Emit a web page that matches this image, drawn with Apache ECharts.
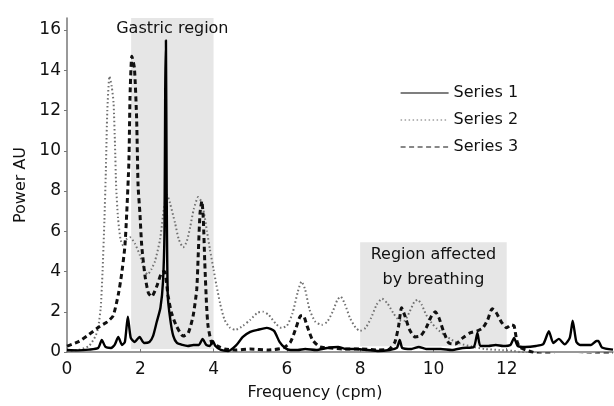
<!DOCTYPE html>
<html lang="en">
<head>
<meta charset="UTF-8">
<title>Power spectrum</title>
<script src="https://cdn.jsdelivr.net/npm/echarts@6/dist/echarts.min.js"></script>
<style>
  html, body { margin: 0; padding: 0; background: #fff; }
  #main { width: 614px; height: 406px; }
</style>
</head>
<body>
<div id="main"></div>
<script>
// frequency (cpm) / power (AU)
const series1 = [
  [0, 0.1], [0.3, 0.08], [0.6, 0.12], [0.85, 0.2], [0.95, 0.6], [1.05, 0.25], [1.2, 0.2],
  [1.3, 0.35], [1.4, 0.75], [1.5, 0.35], [1.58, 0.5], [1.66, 1.75], [1.74, 0.7], [1.85, 0.5],
  [1.98, 0.75], [2.1, 0.45], [2.25, 0.5], [2.35, 0.8], [2.45, 1.5], [2.55, 2.2], [2.62, 3.5],
  [2.66, 6], [2.68, 13], [2.7, 15.5], [2.72, 8], [2.75, 2.8], [2.82, 1.6], [2.9, 0.8],
  [3.0, 0.45], [3.15, 0.35], [3.3, 0.3], [3.45, 0.35], [3.6, 0.35], [3.7, 0.65], [3.8, 0.35],
  [3.9, 0.3], [3.98, 0.55], [4.05, 0.3], [4.2, 0.1], [4.4, 0.05], [4.6, 0.3], [4.8, 0.75],
  [5.0, 1.0], [5.2, 1.1], [5.45, 1.2], [5.65, 1.05], [5.8, 0.5], [5.95, 0.2], [6.1, 0.1],
  [6.3, 0.1], [6.5, 0.15], [6.8, 0.1], [7.1, 0.2], [7.4, 0.25], [7.6, 0.15], [7.9, 0.15],
  [8.2, 0.1], [8.5, 0.05], [8.8, 0.1], [9.0, 0.2], [9.08, 0.6], [9.15, 0.2], [9.4, 0.15],
  [9.6, 0.25], [9.8, 0.15], [10.2, 0.15], [10.5, 0.1], [10.8, 0.2], [11.1, 0.25], [11.2, 0.95],
  [11.28, 0.3], [11.5, 0.3], [11.7, 0.35], [11.9, 0.3], [12.1, 0.35], [12.2, 0.7], [12.3, 0.3],
  [12.5, 0.25], [12.8, 0.3], [13.0, 0.4], [13.15, 1.03], [13.27, 0.45], [13.42, 0.65],
  [13.58, 0.38], [13.72, 0.7], [13.8, 1.55], [13.9, 0.5], [14.0, 0.35], [14.3, 0.35],
  [14.45, 0.55], [14.5, 0.55], [14.6, 0.22], [14.9, 0.12]
];

const series2 = [
  [0, 0.05], [0.3, 0.1], [0.6, 0.3], [0.78, 0.8], [0.85, 1.2], [0.92, 2.2], [0.97, 4],
  [1.02, 6.5], [1.06, 9], [1.1, 12], [1.16, 13.7], [1.22, 13.2], [1.27, 12.4], [1.31, 10.3],
  [1.34, 8.3], [1.39, 6.7], [1.46, 5.6], [1.53, 5.3], [1.62, 5.6], [1.72, 5.7], [1.85, 5.4],
  [1.99, 4.8], [2.13, 4.0], [2.2, 3.85], [2.3, 4.1], [2.4, 4.5], [2.54, 5.6], [2.65, 7.2],
  [2.73, 7.8], [2.81, 7.4], [2.95, 6.4], [3.05, 5.6], [3.17, 5.2], [3.27, 5.5], [3.36, 6.2],
  [3.46, 7.1], [3.58, 7.7], [3.66, 7.5], [3.74, 6.9], [3.82, 6.0], [3.9, 5.1], [4.0, 4.1],
  [4.08, 3.3], [4.18, 2.4], [4.3, 1.6], [4.45, 1.2], [4.6, 1.1], [4.8, 1.3], [5.0, 1.6],
  [5.2, 1.95], [5.35, 2.0], [5.5, 1.85], [5.7, 1.4], [5.85, 1.2], [6.0, 1.3], [6.15, 1.9],
  [6.3, 3.0], [6.4, 3.5], [6.5, 3.1], [6.62, 2.1], [6.78, 1.5], [6.95, 1.35], [7.1, 1.5],
  [7.25, 2.0], [7.38, 2.6], [7.47, 2.75], [7.58, 2.4], [7.72, 1.7], [7.88, 1.2], [8.0, 1.05],
  [8.15, 1.2], [8.3, 1.7], [8.45, 2.35], [8.6, 2.65], [8.75, 2.4], [8.9, 1.95], [9.05, 1.6],
  [9.2, 1.55], [9.35, 2.0], [9.48, 2.5], [9.57, 2.6], [9.68, 2.35], [9.8, 1.85], [9.95, 1.45],
  [10.1, 1.15], [10.3, 0.85], [10.55, 0.55], [10.8, 0.38], [11.05, 0.27], [11.4, 0.15],
  [11.8, 0.1], [12.2, 0.05], [12.5, -0.05], [12.8, -0.15], [13.1, -0.2], [13.4, -0.12],
  [13.7, -0.2], [14.0, -0.3], [14.3, -0.25], [14.6, -0.2], [14.9, -0.2]
];

const series3 = [
  [0, 0.29], [0.3, 0.5], [0.54, 0.79], [0.9, 1.28], [1.1, 1.5], [1.26, 1.8], [1.4, 2.86],
  [1.49, 3.86], [1.58, 5.26], [1.63, 6.9], [1.69, 9.5], [1.72, 12.7], [1.77, 14.7],
  [1.84, 14.1], [1.9, 11.6], [1.94, 8.25], [1.99, 6.9], [2.04, 5.26], [2.13, 3.77],
  [2.22, 2.94], [2.31, 2.75], [2.45, 3.27], [2.58, 3.94], [2.66, 4.0], [2.76, 2.78],
  [2.85, 1.95], [2.99, 1.28], [3.17, 0.79], [3.31, 0.95], [3.44, 1.78], [3.54, 3.1],
  [3.58, 4.77], [3.63, 6.9], [3.68, 7.5], [3.72, 6.6], [3.76, 4.44], [3.81, 2.28],
  [3.85, 1.28], [3.95, 0.46], [4.1, 0.3], [4.3, 0.15], [4.6, 0.1], [5.0, 0.15], [5.5, 0.1],
  [5.9, 0.2], [6.1, 0.5], [6.25, 1.2], [6.38, 1.8], [6.45, 1.8], [6.55, 1.3], [6.7, 0.6],
  [6.9, 0.25], [7.2, 0.2], [7.5, 0.15], [8.0, 0.15], [8.5, 0.1], [8.8, 0.15], [8.95, 0.5],
  [9.05, 1.3], [9.13, 2.2], [9.22, 1.8], [9.35, 1.1], [9.5, 0.75], [9.65, 0.8], [9.8, 1.2],
  [9.95, 1.8], [10.05, 2.0], [10.15, 1.7], [10.28, 1.0], [10.42, 0.45], [10.6, 0.4],
  [10.8, 0.7], [11.0, 0.95], [11.2, 1.05], [11.35, 1.2], [11.48, 1.6], [11.6, 2.15],
  [11.7, 2.0], [11.85, 1.5], [12.0, 1.2], [12.12, 1.35], [12.2, 1.3], [12.27, 0.6],
  [12.35, 0.25], [12.6, 0.05], [12.9, -0.1], [13.2, -0.1], [13.5, -0.3], [13.8, -0.2],
  [14.1, -0.15], [14.5, -0.1], [14.9, -0.1]
];

const seriesNames = ['Series 1', 'Series 2', 'Series 3'];
const xTicks = [0, 2, 4, 6, 8, 10, 12];
const yTicks = [0, 2, 4, 6, 8, 10, 12, 14, 16];

// shaded regions: [fromFreq, toFreq, fromPower, toPower]
const gastricRegion = [1.75, 4, 0.15, 16.85];
const breathingRegion = [8, 12, 0.28, 5.45];

const font = 'DejaVu Sans, Verdana, sans-serif';

const chart = echarts.init(document.getElementById('main'));

chart.setOption({
  animation: false,
  textStyle: { fontFamily: font },
  grid: { left: 67, right: 1, top: 18, bottom: 54 },
  legend: {
    orient: 'vertical',
    left: 395,
    top: 80,
    itemWidth: 48,
    itemHeight: 16,
    itemGap: 11,
    itemStyle: { opacity: 0 },
    lineStyle: { width: 1.2 },
    textStyle: { fontSize: 16, color: '#111', fontFamily: font },
    data: seriesNames
  },
  xAxis: {
    type: 'value',
    min: 0,
    max: 14.9,
    interval: 2,
    name: 'Frequency (cpm)',
    nameLocation: 'middle',
    nameGap: 33,
    nameTextStyle: { fontSize: 16, color: '#111', padding: [0, 50, 0, 0] },
    axisLine: { lineStyle: { color: '#777', width: 1.5 } },
    axisTick: { show: true, inside: true, length: 4, customValues: xTicks, lineStyle: { color: '#777' } },
    axisLabel: { fontSize: 17, color: '#111', margin: 9, customValues: xTicks },
    splitLine: { show: false }
  },
  yAxis: {
    type: 'value',
    min: 0,
    max: 16.6,
    interval: 2,
    name: 'Power AU',
    nameLocation: 'middle',
    nameGap: 36,
    nameTextStyle: { fontSize: 16, color: '#111' },
    axisLine: { show: true, lineStyle: { color: '#777', width: 1.5 } },
    axisTick: { show: true, length: 3, customValues: yTicks, lineStyle: { color: '#777' } },
    axisLabel: { fontSize: 17, color: '#111', margin: 6, customValues: yTicks },
    splitLine: { show: false }
  },
  series: [
    {
      name: seriesNames[0],
      type: 'line',
      data: series1,
      symbol: 'none',
      smooth: 0.2,
      z: 5,
      lineStyle: { color: '#000', width: 2.4, type: 'solid' },
      itemStyle: { color: '#000' },
      markArea: {
        silent: true,
        itemStyle: { color: '#e6e6e6', opacity: 1 },
        label: { color: '#111', fontSize: 16, fontFamily: font },
        data: [
          [
            {
              name: 'Gastric region',
              xAxis: gastricRegion[0],
              yAxis: gastricRegion[3],
              label: { position: 'insideTop', distance: 3 }
            },
            { xAxis: gastricRegion[1], yAxis: gastricRegion[2] }
          ],
          [
            {
              name: 'Region affected\nby breathing',
              xAxis: breathingRegion[0],
              yAxis: breathingRegion[3],
              label: { position: 'insideTop', distance: 0, lineHeight: 25 }
            },
            { xAxis: breathingRegion[1], yAxis: breathingRegion[2] }
          ]
        ]
      }
    },
    {
      name: seriesNames[1],
      type: 'line',
      data: series2,
      symbol: 'none',
      smooth: 0.2,
      z: 3,
      lineStyle: { color: '#707070', width: 2, type: [1.5, 2.5] },
      itemStyle: { color: '#707070' }
    },
    {
      name: seriesNames[2],
      type: 'line',
      data: series3,
      symbol: 'none',
      smooth: 0.2,
      z: 4,
      lineStyle: { color: '#111', width: 3, type: [5, 3.5] },
      itemStyle: { color: '#111' }
    }
  ]
});
</script>
</body>
</html>
